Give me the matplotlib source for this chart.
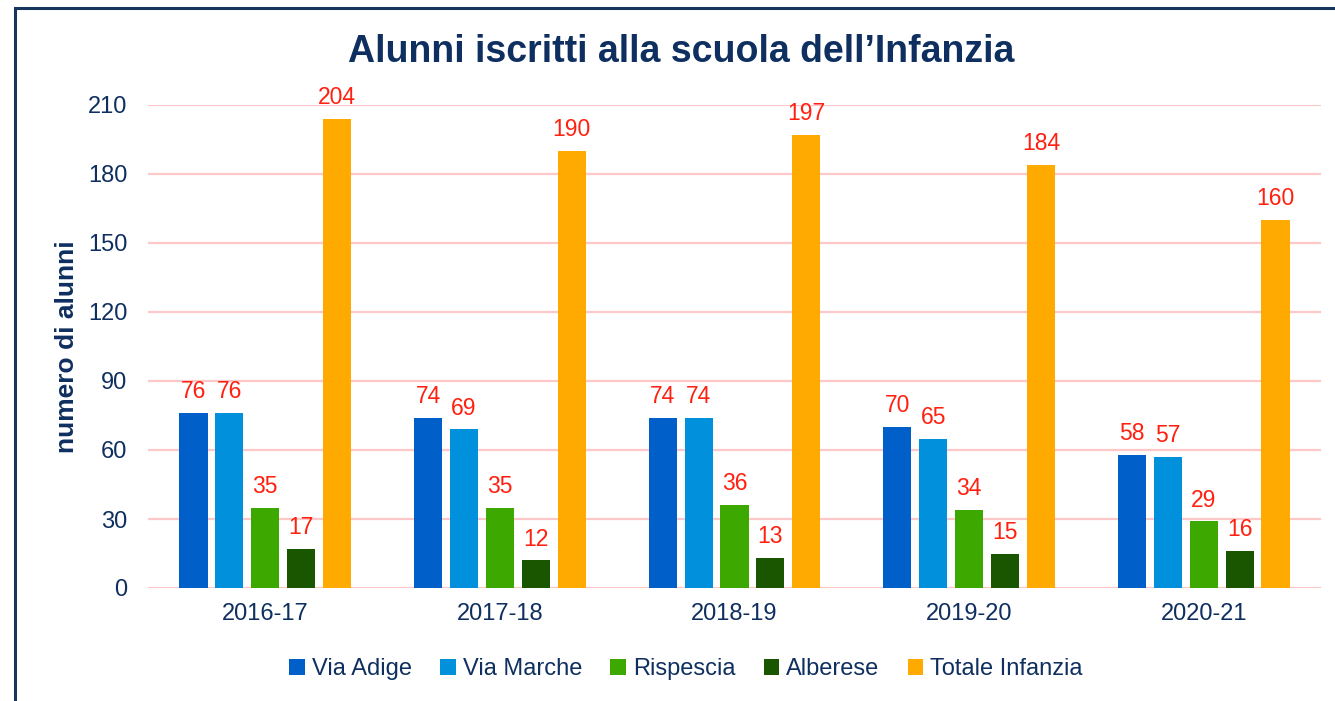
import matplotlib
matplotlib.use("Agg")
import matplotlib.pyplot as plt
from matplotlib.patches import Rectangle
import numpy as np

plt.rcParams['font.family'] = ['Liberation Sans', 'DejaVu Sans']

years = ["2016-17", "2017-18", "2018-19", "2019-20", "2020-21"]
series_names = ["Via Adige", "Via Marche", "Rispescia", "Alberese", "Totale Infanzia"]
via_adige = [76, 74, 74, 70, 58]
via_marche = [76, 69, 74, 65, 57]
rispescia = [35, 35, 36, 34, 29]
alberese = [17, 12, 13, 15, 16]
totale = [204, 190, 197, 184, 160]
yticks = [0, 30, 60, 90, 120, 150, 180, 210]

colors = ["#005FC8", "#0090DC", "#3DA800", "#1A5500", "#FFAA00"]
navy = "#0E2F5F"
red = "#FF2010"

fig = plt.figure(figsize=(13.35, 7.01), dpi=100)
ax = fig.add_axes([148/1335, 1-588/701, (1321-148)/1335, (588-105)/701])

data = [via_adige, via_marche, rispescia, alberese, totale]
x = np.arange(len(years))
step = 0.153
width = 0.12
for i, (name, vals, c) in enumerate(zip(series_names, data, colors)):
    pos = x + (i - 2) * step
    bars = ax.bar(pos, vals, width, color=c, label=name, zorder=3)
    for b, v in zip(bars, vals):
        ax.annotate(str(v), (b.get_x() + b.get_width()/2, v), xytext=(0, 7),
                    textcoords="offset points", ha="center", va="bottom",
                    color=red, fontsize=16.5, zorder=4)

ax.set_xlim(-0.5, len(years) - 0.5)
ax.set_ylim(0, 210)
ax.set_yticks(yticks)
ax.set_xticks(x)
ax.set_xticklabels(years)
ax.grid(axis='y', color="#FFC8C8", linewidth=1.6, zorder=0)
for s in ax.spines.values():
    s.set_visible(False)
ax.tick_params(axis='both', length=0, labelsize=17, labelcolor=navy)
ax.tick_params(axis='y', pad=15)
ax.tick_params(axis='x', pad=11)
ax.set_ylabel("numero di alunni", fontsize=19, fontweight='bold', color=navy, labelpad=6)

fig.text(681/1335, 1-52/701, "Alunni iscritti alla scuola dell\u2019Infanzia", ha="center", va="center",
         fontsize=27, fontweight='bold', color=navy)

leg = fig.legend(loc="center", bbox_to_anchor=(686/1335, 1-669/701), ncol=5, frameon=False,
                 fontsize=17, handlelength=0.65, handleheight=0.65, handletextpad=0.3,
                 columnspacing=1.2)
for t in leg.get_texts():
    t.set_color(navy)

fig.add_artist(Rectangle((15/1335, -0.1), 1.2, 1 - 8/701 + 0.1, transform=fig.transFigure,
                         fill=False, edgecolor="#17365D", linewidth=2.2))

fig.savefig("out.png", dpi=100)
